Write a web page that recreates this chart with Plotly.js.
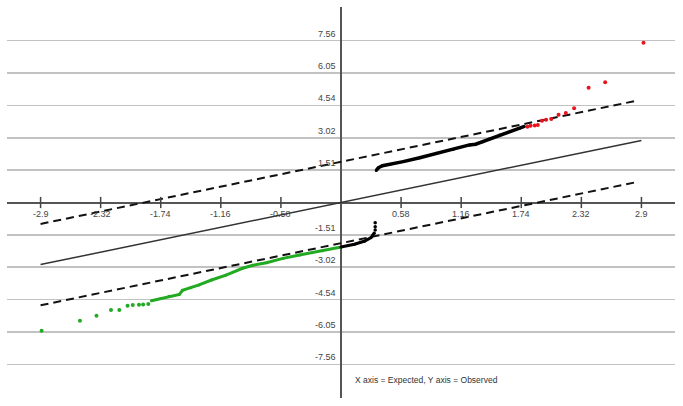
<!DOCTYPE html>
<html>
<head>
<meta charset="utf-8">
<script src="https://cdn.plot.ly/plotly-3.0.1.min.js"></script>
<style>html,body{margin:0;padding:0;background:#fff;}#chart{width:683px;height:406px;}</style>
</head>
<body>
<div id="chart"></div>
<script>
// Tick values / labels
const xTickVals = [-2.9, -2.32, -1.74, -1.16, -0.58, 0.58, 1.16, 1.74, 2.32, 2.9];
const xTickText = ["-2.9", "-2.32", "-1.74", "-1.16", "-0.58", "0.58", "1.16", "1.74", "2.32", "2.9"];
const yTickVals = [7.56, 6.05, 4.54, 3.02, 1.51, -1.51, -3.02, -4.54, -6.05, -7.56];
const yTickText = ["7.56", "6.05", "4.54", "3.02", "1.51", "-1.51", "-3.02", "-4.54", "-6.05", "-7.56"];

// Reference line (expected = observed) and band
const refX = [-2.9, 2.9];
const refY = [-2.9, 2.9];
const upperBandX = [-2.9, 2.85];
const upperBandY = [-1.0, 4.75];
const lowerBandX = [-2.9, 2.85];
const lowerBandY = [-4.8, 0.95];

// Observed points
const blackUpperX = [0.34, 0.36, 0.40, 0.47, 0.60, 0.76, 0.92, 1.08, 1.24, 1.30, 1.37, 1.43, 1.47, 1.53, 1.63, 1.72, 1.77];
const blackUpperY = [1.50, 1.62, 1.72, 1.78, 1.91, 2.09, 2.30, 2.48, 2.69, 2.72, 2.84, 2.97, 3.02, 3.15, 3.31, 3.46, 3.55];
const blackLowerX = [0.0, 0.13, 0.23, 0.29, 0.31];
const blackLowerY = [-2.08, -1.95, -1.80, -1.64, -1.50];
const blackDotsX = [0.32, 0.33, 0.33, 0.33];
const blackDotsY = [-1.44, -1.28, -1.13, -0.95];
const redX = [1.80, 1.83, 1.87, 1.90, 1.94, 1.98, 2.03, 2.10, 2.17, 2.25, 2.39, 2.55, 2.92];
const redY = [3.54, 3.59, 3.60, 3.62, 3.82, 3.87, 3.90, 4.10, 4.18, 4.40, 5.36, 5.61, 7.46];
const greenSparseX = [-2.89, -2.52, -2.36, -2.22, -2.14, -2.06, -2.01, -1.95, -1.91, -1.86];
const greenSparseY = [-5.99, -5.52, -5.29, -5.02, -5.02, -4.82, -4.79, -4.77, -4.76, -4.74];
const greenDenseX = [-1.83, -1.74, -1.66, -1.56, -1.53, -1.45, -1.37, -1.25, -1.11, -0.95, -0.85, -0.72, -0.56, -0.40, -0.18, -0.01];
const greenDenseY = [-4.59, -4.48, -4.38, -4.29, -4.10, -3.98, -3.85, -3.62, -3.39, -3.07, -2.93, -2.81, -2.61, -2.45, -2.25, -2.09];

const noteText = "X axis = Expected, Y axis = Observed";

const FONT = "Liberation Sans, Arial, sans-serif";
const traces = [
  {x: refX, y: refY, mode: "lines", line: {color: "#333", width: 1.5}, hoverinfo: "skip"},
  {x: upperBandX, y: upperBandY, mode: "lines", line: {color: "#111", width: 2, dash: "8px,5px"}},
  {x: lowerBandX, y: lowerBandY, mode: "lines", line: {color: "#111", width: 2, dash: "8px,5px"}},
  {x: greenDenseX, y: greenDenseY, mode: "lines+markers", line: {color: "#22aa22", width: 3}, marker: {color: "#22aa22", size: 3}},
  {x: greenSparseX, y: greenSparseY, mode: "markers", marker: {color: "#22aa22", size: 4}},
  {x: blackUpperX, y: blackUpperY, mode: "lines+markers", line: {color: "#000", width: 3.5}, marker: {color: "#000", size: 3}},
  {x: blackLowerX, y: blackLowerY, mode: "lines+markers", line: {color: "#000", width: 3}, marker: {color: "#000", size: 3}},
  {x: blackDotsX, y: blackDotsY, mode: "markers", marker: {color: "#000", size: 3.5}},
  {x: redX, y: redY, mode: "markers", marker: {color: "#e8141b", size: 4}},
  {x: xTickVals, y: xTickVals.map(() => 0), mode: "markers", marker: {symbol: "line-ns", size: 8, line: {color: "#444", width: 1.5}}, hoverinfo: "skip"}
];

const annotations = [];
xTickVals.forEach((v, i) => annotations.push({
  x: v, y: 0, xref: "x", yref: "y", text: xTickText[i], showarrow: false,
  xanchor: "center", yanchor: "middle", yshift: -11, font: {family: FONT, size: 9, color: "#444"}
}));
yTickVals.forEach((v, i) => annotations.push({
  x: 0, y: v, xref: "x", yref: "y", text: yTickText[i], showarrow: false,
  xanchor: "right", yanchor: "middle", xshift: -3, yshift: 7, font: {family: FONT, size: 9, color: "#444"}
}));
annotations.push({x: 0.12, y: -8.29, xref: "x", yref: "y", text: noteText, showarrow: false,
  xanchor: "left", yanchor: "middle", font: {family: FONT, size: 8.5, color: "#333"}});

const layout = {
  width: 683, height: 406,
  margin: {l: 7, r: 8, t: 7, b: 8},
  paper_bgcolor: "#fff", plot_bgcolor: "#fff",
  showlegend: false,
  xaxis: {range: [-3.224, 3.224], showgrid: false, zeroline: true, zerolinecolor: "#555", zerolinewidth: 2,
          showticklabels: false, ticks: "", showline: false},
  yaxis: {range: [-9.13, 9.13], tickvals: yTickVals, showgrid: true, gridcolor: "#c2c2c2", gridwidth: 1.5,
          zeroline: true, zerolinecolor: "#555", zerolinewidth: 2, showticklabels: false, ticks: "", showline: false},
  annotations: annotations,
  font: {family: FONT}
};

Plotly.newPlot("chart", traces, layout, {displayModeBar: false, staticPlot: true});
</script>
</body>
</html>
